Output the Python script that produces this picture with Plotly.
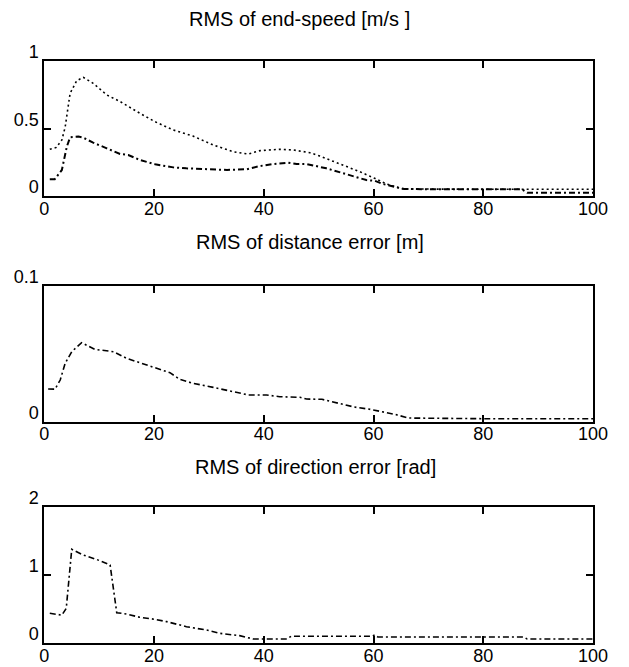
import plotly.graph_objects as go

# ---- data ----
speed_upper_x = [1.0, 2.2, 3.2, 3.8, 4.7, 5.9, 7.1, 8.9, 11.4, 13.8, 17.4, 20.2, 23.5, 27.1, 30.8, 34.4, 37.2, 39.3, 42.9, 45.4, 48.4, 50.2, 53.9, 57.5, 60.2, 62.4, 65.4, 70, 80, 87.2, 90, 100]
speed_upper_y = [0.346, 0.36, 0.415, 0.51, 0.76, 0.854, 0.879, 0.835, 0.748, 0.70, 0.613, 0.55, 0.489, 0.444, 0.378, 0.328, 0.311, 0.336, 0.346, 0.341, 0.321, 0.296, 0.237, 0.18, 0.131, 0.089, 0.052, 0.05, 0.05, 0.05, 0.05, 0.05]

speed_lower_x = [1.0, 1.9, 3.2, 4.1, 4.7, 6.2, 7.1, 8.9, 11.4, 13.8, 15.3, 17.4, 20.2, 23.5, 25.9, 29.6, 33.3, 36.9, 39.3, 41.7, 44.4, 46.0, 47.8, 51.4, 55.1, 58.7, 60.2, 61.7, 64.2, 65.6, 70, 80, 87.0, 88.0, 100]
speed_lower_y = [0.124, 0.124, 0.193, 0.365, 0.435, 0.44, 0.432, 0.395, 0.353, 0.311, 0.304, 0.267, 0.235, 0.212, 0.205, 0.198, 0.193, 0.198, 0.222, 0.237, 0.247, 0.237, 0.237, 0.205, 0.16, 0.118, 0.113, 0.089, 0.064, 0.052, 0.05, 0.05, 0.05, 0.025, 0.025]

dist_x = [0.7, 1.95, 2.9, 3.8, 5.0, 6.8, 9.2, 11.4, 12.6, 15.0, 17.4, 20.2, 22.9, 24.7, 27.1, 30.8, 34.4, 37.2, 40.5, 42.9, 46.6, 47.8, 50.6, 52.8, 56.5, 59.4, 61.2, 63.8, 66.4, 80, 100]
dist_y = [0.0241, 0.024, 0.0307, 0.043, 0.0516, 0.0582, 0.0533, 0.0523, 0.0516, 0.0467, 0.0435, 0.040, 0.0361, 0.0312, 0.0283, 0.0253, 0.0221, 0.0197, 0.0197, 0.0184, 0.018, 0.0167, 0.0165, 0.0145, 0.0108, 0.0091, 0.0077, 0.0055, 0.0027, 0.0022, 0.0022]

dir_x = [1.0, 3.2, 4.0, 5.0, 7.1, 9.5, 12.0, 13.2, 15.0, 17.4, 20.2, 22.3, 25.9, 29.6, 32.0, 35.6, 38.1, 44.2, 45.0, 50.2, 59.8, 60.2, 60.8, 70, 80, 87.4, 88.0, 100]
dir_y = [0.437, 0.41, 0.51, 1.378, 1.294, 1.23, 1.147, 0.446, 0.426, 0.378, 0.348, 0.314, 0.24, 0.19, 0.142, 0.108, 0.059, 0.059, 0.1, 0.1, 0.1, 0.12, 0.088, 0.088, 0.088, 0.088, 0.059, 0.059]

x_ticks = [0, 20, 40, 60, 80, 100]
y1_ticks = [0, 0.5, 1]
y1_labels = ["0", "0.5", "1"]
y2_ticks = [0, 0.1]
y2_labels = ["0", "0.1"]
y3_ticks = [0, 1, 2]
y3_labels = ["0", "1", "2"]

titles = ["RMS of end-speed [m/s ]", "RMS of distance error [m]", "RMS of direction error [rad]"]

W, H = 629, 667
FONT = "Liberation Sans, Arial, Helvetica, sans-serif"

fig = go.Figure()
line_w = 1.6
fig.add_trace(go.Scatter(x=speed_upper_x, y=speed_upper_y, mode="lines", xaxis="x", yaxis="y",
                         line=dict(color="black", width=line_w, dash="2px,3px"), showlegend=False))
fig.add_trace(go.Scatter(x=speed_lower_x, y=speed_lower_y, mode="lines", xaxis="x", yaxis="y",
                         line=dict(color="black", width=line_w + 0.4, dash="6px,3px,2px,3px"), showlegend=False))
fig.add_trace(go.Scatter(x=dist_x, y=dist_y, mode="lines", xaxis="x2", yaxis="y2",
                         line=dict(color="black", width=line_w, dash="6px,3px,2px,3px"), showlegend=False))
fig.add_trace(go.Scatter(x=dir_x, y=dir_y, mode="lines", xaxis="x3", yaxis="y3",
                         line=dict(color="black", width=line_w, dash="6px,3px,2px,3px"), showlegend=False))

xdom = [44.3 / W, 593 / W]
ydoms = [[1 - 196 / H, 1 - 61 / H], [1 - 421.7 / H, 1 - 286 / H], [1 - 643 / H, 1 - 507 / H]]
yranges = [[0, 1], [0, 0.1], [0, 2]]
yticks = [(y1_ticks, y1_labels), (y2_ticks, y2_labels), (y3_ticks, y3_labels)]

common = dict(showline=True, linecolor="black", linewidth=2, mirror="allticks",
              ticks="inside", ticklen=7, tickwidth=2, tickcolor="black",
              showgrid=False, zeroline=False, automargin=False,
              tickfont=dict(family=FONT, size=18, color="black"))

layout = dict(width=W, height=H, margin=dict(l=0, r=0, t=0, b=0, pad=0, autoexpand=False),
              paper_bgcolor="white", plot_bgcolor="white", showlegend=False)
for i in range(3):
    sx = "" if i == 0 else str(i + 1)
    layout["xaxis" + sx] = dict(domain=xdom, range=[0, 100], tickvals=x_ticks,
                                ticktext=[str(t) for t in x_ticks], anchor="y" + sx,
                                ticklabelstandoff=-5, **common)
    layout["yaxis" + sx] = dict(domain=ydoms[i], range=yranges[i], tickvals=yticks[i][0],
                                ticktext=yticks[i][1], anchor="x" + sx, ticklabelshift=-9,
                                ticklabelstandoff=0, **common)
fig.update_layout(**layout)

title_pos = [(299, 19), (310, 242), (316, 467)]
for t, (px, py) in zip(titles, title_pos):
    fig.add_annotation(text=t, x=px / W, y=1 - py / H, xref="paper", yref="paper",
                       xanchor="center", yanchor="middle", showarrow=False,
                       font=dict(family=FONT, size=20, color="black"))

fig.write_html("out.html", config={"displayModeBar": False},
               post_script="document.body.style.margin='0';document.body.style.padding='0';document.body.style.overflow='hidden';window.scrollTo(0,0);")
